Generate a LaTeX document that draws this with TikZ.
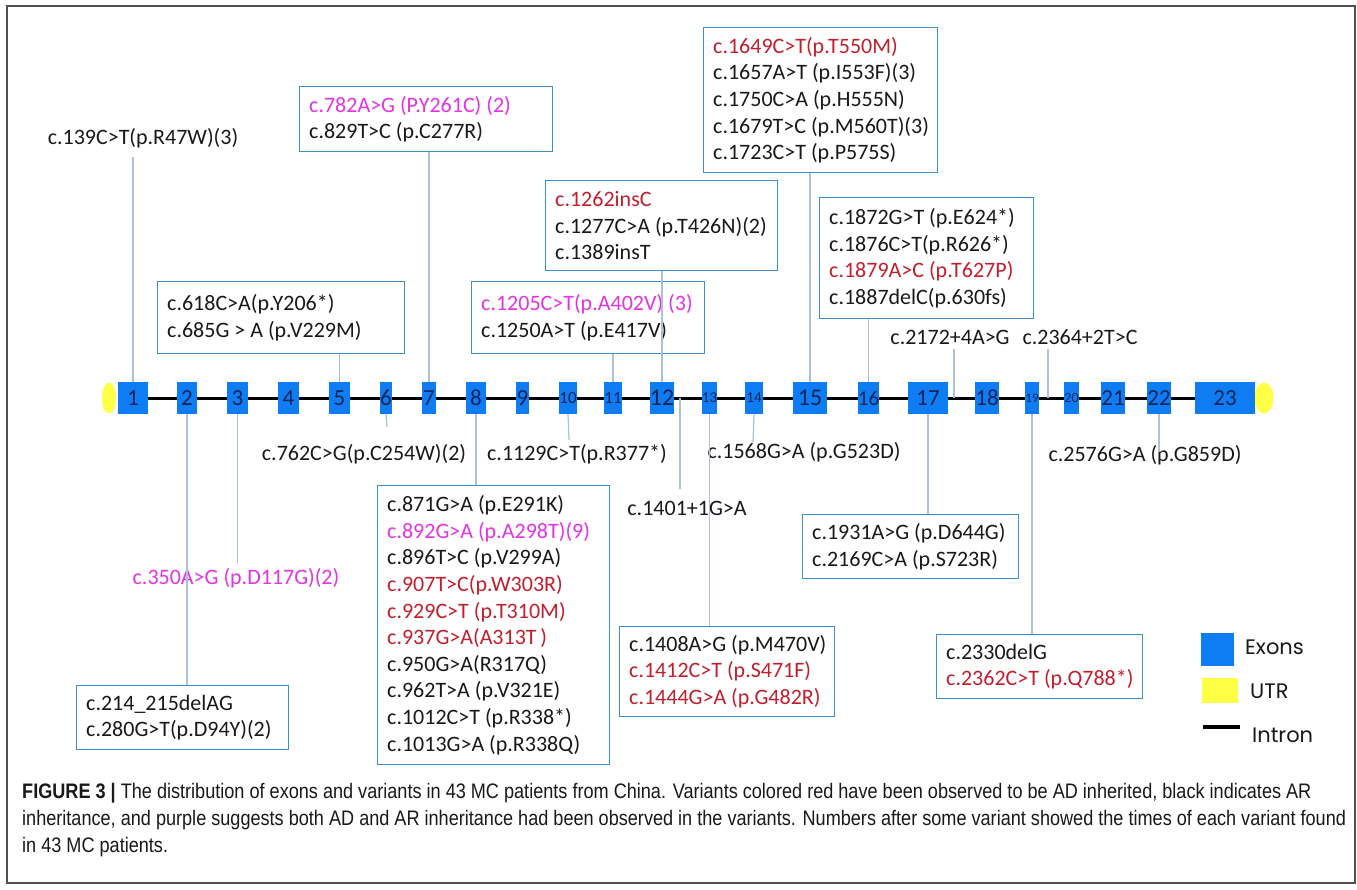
\documentclass[tikz,border=0pt]{standalone}
\usepackage{fontspec}
\setmainfont{Carlito}
\newfontfamily\legfont{Poppins}
\newfontfamily\capfont[FakeStretch=0.862]{Liberation Sans}
\usetikzlibrary{shapes.geometric}
\pgfdeclarelayer{background}
\pgfsetlayers{background,main}
\definecolor{exblue}{RGB}{14,124,242}
\definecolor{utrc}{RGB}{255,255,70}
\definecolor{boxc}{RGB}{62,142,200}
\definecolor{connc}{RGB}{172,192,215}
\definecolor{magv}{RGB}{226,52,226}
\definecolor{redv}{RGB}{192,32,45}
\definecolor{txt}{RGB}{25,25,25}
\definecolor{exlab}{RGB}{22,36,90}
\definecolor{framec}{RGB}{80,80,80}
\newcommand\mg[1]{\textcolor{magv}{#1}}
\newcommand\rd[1]{\textcolor{redv}{#1}}
\newcommand\VarBox[6]{%
  \pgfmathsetmacro\vbw{#4-#2}\pgfmathsetmacro\vbh{#5-#3}%
  \node[varbox, minimum width=\vbw pt, minimum height=\vbh pt] (#1) at (#2,#3) {};
  \node[boxtext] (#1-t) at ([xshift=10pt]#1.west) {#6};}
\newcommand\Ex[4]{%
  \pgfmathsetmacro\exc{(#2+#3)/2}\pgfmathsetmacro\exw{#3-#2}%
  \node[exon, minimum width=\exw pt, font=\fontsize{#4}{#4}\selectfont] (e#1) at (\exc,398) {#1};}
\tikzset{
  varbox/.style={draw=boxc, line width=1.3pt, fill=white, anchor=north west, inner sep=0pt},
  boxtext/.style={anchor=west, inner sep=0pt, align=left, text=txt, font=\fontsize{22}{26.6}\selectfont},
  lbl/.style={inner sep=0pt, text=txt, font=\fontsize{22}{26.6}\selectfont},
  exon/.style={rectangle, fill=exblue, minimum height=32pt, inner sep=0pt, text=exlab},
  utr/.style={ellipse, fill=utrc, inner sep=0pt, minimum height=31pt},
  conn/.style={draw=connc, line width=1.2pt},
  intron/.style={draw=black, line width=3pt},
  legtxt/.style={anchor=west, inner sep=0pt, text=txt, font=\legfont\fontsize{21}{21}\selectfont},
  captxt/.style={anchor=west, inner sep=0pt, text=txt, font=\capfont\fontsize{21}{27}\selectfont}
}
\begin{document}
\begin{tikzpicture}[x=1pt,y=-1pt]
\useasboundingbox (0,0) rectangle (1357,889);
\begin{pgfonlayer}{background}
\fill[white] (0,0) rectangle (1357,889);
\end{pgfonlayer}
\draw[draw=framec, line width=1.4pt] (7,6) rectangle (1355,883);

% exons
\node[utr, minimum width=14pt] (u1) at (109,398) {};
\node[utr, minimum width=19pt] (u2) at (1264,398) {};
\Ex{1}{118}{148}{23}
\Ex{2}{177}{197}{23}
\Ex{3}{227}{248}{23}
\Ex{4}{278}{299}{23}
\Ex{5}{329}{350}{23}
\Ex{6}{380}{392}{23}
\Ex{7}{422}{436}{23}
\Ex{8}{466}{486}{23}
\Ex{9}{516}{529}{23}
\Ex{10}{559}{577}{17}
\Ex{11}{606}{620}{17}
\Ex{12}{650}{674}{24}
\Ex{13}{704}{715}{15}
\Ex{14}{745}{763}{15}
\Ex{15}{793}{827}{24}
\Ex{16}{858}{879}{21}
\Ex{17}{908}{948}{23}
\Ex{18}{978}{996}{23}
\Ex{19}{1026}{1038}{13}
\Ex{20}{1068}{1075}{14}
\Ex{21}{1104}{1122}{23}
\Ex{22}{1152}{1166}{23}
\Ex{23}{1195}{1255}{23}
\begin{pgfonlayer}{background}
\draw[intron] (e1.east) -- (e23.west);
\end{pgfonlayer}

% boxes above
\VarBox{B782}{299}{86}{552}{151}{\mg{c.782A>G (P.Y261C) (2)}\\c.829T>C (p.C277R)}
\VarBox{B618}{157}{281}{404}{353}{c.618C>A(p.Y206*)\\c.685G > A (p.V229M)}
\VarBox{B1649}{703}{27}{937}{172}{\rd{c.1649C>T(p.T550M)}\\c.1657A>T (p.I553F)(3)\\c.1750C>A (p.H555N)\\c.1679T>C (p.M560T)(3)\\c.1723C>T (p.P575S)}
\VarBox{B1262}{545}{180}{777}{270}{\rd{c.1262insC}\\c.1277C>A (p.T426N)(2)\\c.1389insT}
\VarBox{B1205}{471}{281}{704}{353}{\mg{c.1205C>T(p.A402V) (3)}\\c.1250A>T (p.E417V)}
\VarBox{B1872}{819}{197}{1033}{318}{c.1872G>T (p.E624*)\\c.1876C>T(p.R626*)\\\rd{c.1879A>C (p.T627P)}\\c.1887delC(p.630fs)}
% boxes below
\VarBox{B214}{76}{685}{288}{749}{c.214\_215delAG\\c.280G>T(p.D94Y)(2)}
\VarBox{B871}{377}{485}{609}{764}{c.871G>A (p.E291K)\\\mg{c.892G>A (p.A298T)(9)}\\c.896T>C (p.V299A)\\\rd{c.907T>C(p.W303R)}\\\rd{c.929C>T (p.T310M)}\\\rd{c.937G>A(A313T\,)}\\c.950G>A(R317Q)\\c.962T>A (p.V321E)\\c.1012C>T (p.R338*)\\c.1013G>A (p.R338Q)}
\VarBox{B1408}{619}{626}{834}{716}{c.1408A>G (p.M470V)\\\rd{c.1412C>T (p.S471F)}\\\rd{c.1444G>A (p.G482R)}}
\VarBox{B1931}{802}{514}{1018}{578}{c.1931A>G (p.D644G)\\c.2169C>A (p.S723R)}
\VarBox{B2330}{936}{634}{1142}{698}{c.2330delG\\\rd{c.2362C>T (p.Q788*)}}

% free labels
\node[lbl] (t139) at (143,138) {c.139C>T(p.R47W)(3)};
\node[lbl] (t2172) at (950,337) {c.2172+4A>G};
\node[lbl] (t2364) at (1080,337) {c.2364+2T>C};
\node[lbl] (t762) at (364,454) {c.762C>G(p.C254W)(2)};
\node[lbl] (t1129) at (577,454) {c.1129C>T(p.R377*)};
\node[lbl] (t1568) at (804,452) {c.1568G>A (p.G523D)};
\node[lbl] (t1401) at (687,508) {c.1401+1G>A};
\node[lbl] (t2576) at (1145,455) {c.2576G>A (p.G859D)};
\node[lbl, text=magv] (t350) at (236,578) {c.350A>G (p.D117G)(2)};

% coordinates for free ends
\coordinate (i2172) at (954,398);
\coordinate (i2364) at (1048,398);
\coordinate (i1401) at (680,398);
\coordinate (c1401) at (680,489);
\coordinate (c6) at (387,427);
\coordinate (c10) at (569,440);
\coordinate (c14) at (753,442);
\coordinate (c22) at (1159,452);
\coordinate (c3) at (237.5,563);
\coordinate (c139) at (133,157);
\coordinate (c2172) at (954,349);
\coordinate (c2364) at (1048,349);

% connectors above
\draw[conn] (e1.north) -- (c139);
\draw[conn] (e5.north) -- (e5.north |- B618.south);
\draw[conn] (e7.north) -- (e7.north |- B782.south);
\draw[conn] (e11.north) -- (e11.north |- B1205.south);
\draw[conn] (e12.north) -- (e12.north |- B1262.south);
\draw[conn] (e15.north) -- (e15.north |- B1649.south);
\draw[conn] (e16.north) -- (e16.north |- B1872.south);
\draw[conn] (i2172) -- (c2172);
\draw[conn] (i2364) -- (c2364);
% connectors below
\draw[conn] (e2.south) -- (e2.south |- B214.north);
\draw[conn] (e3.south) -- (c3);
\draw[conn] (e6.south) -- (c6);
\draw[conn] (e8.south) -- (e8.south |- B871.north);
\draw[conn] (e10.south) -- (c10);
\draw[conn] (i1401) -- (c1401);
\draw[conn] (e13.south) -- (e13.south |- B1408.north);
\draw[conn] (e14.south) -- (c14);
\draw[conn] (e17.south) -- (e17.south |- B1931.north);
\draw[conn] (e19.south) -- (e19.south |- B2330.north);
\draw[conn] (e22.south) -- (c22);

% legend
\fill[exblue] (1201,633) rectangle (1234,666);
\fill[utrc] (1202,678) rectangle (1238,703);
\draw[line width=3.5pt] (1203,727) -- (1240,727);
\node[legtxt] (lg1) at (1245,647) {Exons};
\node[legtxt] (lg2) at (1250,691) {UTR};
\node[legtxt] (lg3) at (1252,735) {Intron};

% caption
\node[captxt] (cap1) at (22,793) {\textbf{FIGURE 3 |} The distribution of exons and variants in 43 MC patients from China. Variants colored red have been observed to be AD inherited, black indicates AR};
\node[captxt] (cap2) at (22,820) {inheritance, and purple suggests both AD and AR inheritance had been observed in the variants. Numbers after some variant showed the times of each variant found};
\node[captxt] (cap3) at (22,847) {in 43 MC patients.};
\end{tikzpicture}
\end{document}
